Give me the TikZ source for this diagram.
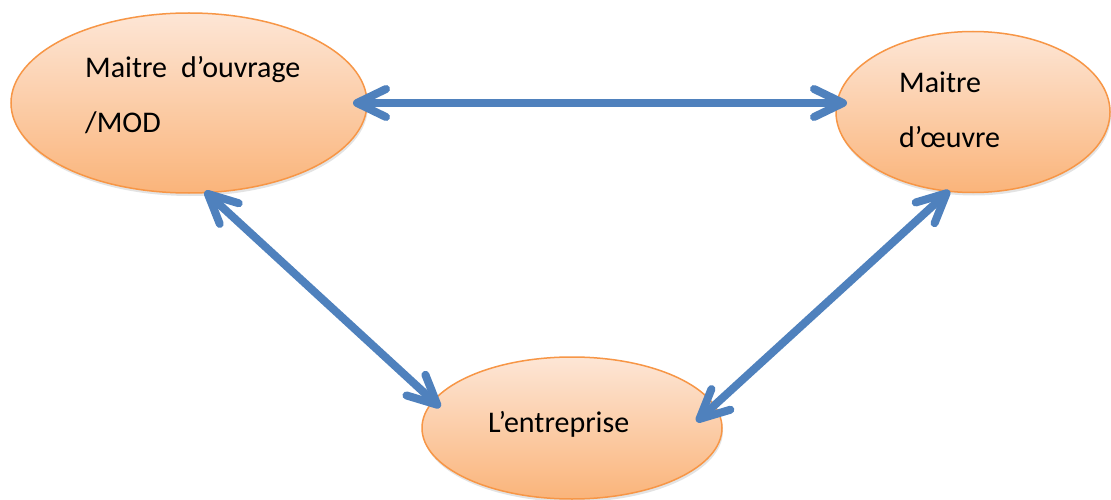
\documentclass[tikz,border=0pt]{standalone}
\usepackage{fontspec}
\setmainfont{Carlito}
\usetikzlibrary{shapes.geometric,arrows.meta,shadows}
\definecolor{arrblue}{RGB}{79,129,189}
\definecolor{ellborder}{RGB}{247,150,70}
\definecolor{elltop}{RGB}{253,230,214}
\definecolor{ellbot}{RGB}{250,180,122}
\begin{document}
\begin{tikzpicture}[x=1pt,y=-1pt,
  oval/.style={ellipse, draw=ellborder, line width=1.5pt, top color=elltop, bottom color=ellbot,
    inner sep=0pt, outer sep=0pt,
    drop shadow={shadow xshift=1pt, shadow yshift=-3pt, opacity=0.22}},
  lbl/.style={anchor=base west, inner sep=0pt, font=\fontsize{30}{36}\selectfont},
  arr/.style={draw=arrblue, line width=8pt, line cap=round,
    arrows={Straight Barb[length=29pt,width=28pt,round]-Straight Barb[length=29pt,width=28pt,round]}}]
\useasboundingbox (0,0) rectangle (1111,500);
\clip (0,0) rectangle (1111,500);
\fill[white] (0,0) rectangle (1111,500);
% ellipses
\node[oval, minimum width=356pt, minimum height=180pt] (mod) at (189,103) {};
\node[oval, minimum width=274pt, minimum height=161pt] (moe) at (973,112) {};
\node[oval, minimum width=300pt, minimum height=142pt] (ent) at (572,428) {};
% labels
\node[lbl] (t1) at (85,78) {Maitre\hspace{14pt}d’ouvrage};
\node[lbl] (t2) at (85,133) {/MOD};
\node[lbl] (t3) at (899,93) {Maitre};
\node[lbl] (t4) at (899,147) {d’œuvre};
\node[lbl] (t5) at (488,432) {L’entreprise};
% connectors
\draw[arr, shorten <=-14pt, shorten >=-11pt] (mod.east) -- (mod.east -| moe.west);
\draw[arr, shorten <=-2pt, shorten >=-9.5pt] (mod.-79) -- (ent.169);
\draw[arr, shorten <=-1pt, shorten >=-24pt] (moe.-107) -- (ent.9.7);
\end{tikzpicture}
\end{document}
